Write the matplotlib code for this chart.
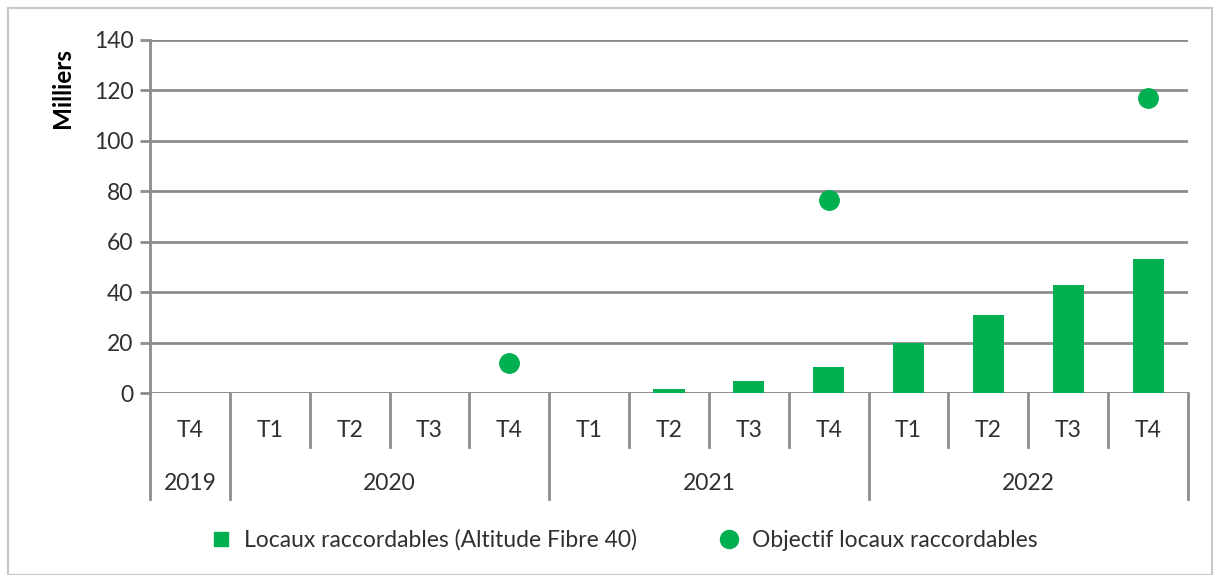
import matplotlib
matplotlib.use("Agg")
import matplotlib.pyplot as plt
from matplotlib.lines import Line2D
from matplotlib.patches import Rectangle

plt.rcParams['font.family'] = ['Lato', 'DejaVu Sans']

trimestres = ["T4", "T1", "T2", "T3", "T4", "T1", "T2", "T3", "T4", "T1", "T2", "T3", "T4"]
annees = ["2019", "2020", "2021", "2022"]
nb_trim = [1, 4, 4, 4]
locaux = [0, 0, 0, 0, 0, 0, 1.6, 4.7, 10.4, 19.9, 31, 43, 53]
objectif = [None, None, None, None, 11.9, None, None, None, 76.6, None, None, None, 116.8]

vert = "#00B050"
gris = "#8C8C8C"
taille = 16.5

fig = plt.figure(figsize=(12.15, 5.75), dpi=100)
ax = fig.add_axes([150/1215, 1-393/575, 1038/1215, 353/575])

x = list(range(len(trimestres)))
ax.bar(x, locaux, width=0.39, color=vert, zorder=3)
xo = [i for i, v in zip(x, objectif) if v is not None]
yo = [v for v in objectif if v is not None]
ax.plot(xo, yo, 'o', color=vert, markersize=14, zorder=4, linestyle='none')

ax.set_xlim(-0.5, len(x) - 0.5)
ax.set_ylim(0, 140)
ax.set_yticks(range(0, 141, 20))
ax.yaxis.grid(True, color=gris, linewidth=2)
ax.set_axisbelow(True)
for s in ["top", "right", "bottom"]:
    ax.spines[s].set_visible(False)
ax.spines["left"].set_color(gris)
ax.spines["left"].set_linewidth(2)
ax.axhline(0, color=gris, linewidth=2, zorder=2)
ax.tick_params(axis='y', colors=gris, length=7, width=2, labelsize=taille, labelcolor="#303030", pad=5)
ax.set_xticks([])

# axe des categories a deux niveaux
bornes_annee = [-0.5]
for n in nb_trim:
    bornes_annee.append(bornes_annee[-1] + n)
for b in range(len(x) + 1):
    pos = b - 0.5
    if pos in bornes_annee:
        ax.axvline(pos, ymin=-0.30, ymax=0, color=gris, linewidth=2, clip_on=False)
    else:
        ax.axvline(pos, ymin=-0.153, ymax=0, color=gris, linewidth=2, clip_on=False)

for i, t in enumerate(trimestres):
    ax.text(i, -0.105, t, transform=ax.get_xaxis_transform(), ha='center', va='center',
            fontsize=taille, color="#303030")
for k, a in enumerate(annees):
    centre = (bornes_annee[k] + bornes_annee[k + 1]) / 2
    ax.text(centre, -0.255, a, transform=ax.get_xaxis_transform(), ha='center', va='center',
            fontsize=taille, color="#303030")

fig.text(62/1215, 1-88/575, "Milliers", rotation=90, ha='center', va='center',
         fontsize=17.5, fontweight='bold', color="black")

poignees = [Line2D([], [], marker='s', color=vert, linestyle='none', markersize=10),
            Line2D([], [], marker='o', color=vert, linestyle='none', markersize=13)]
fig.legend(poignees, ["Locaux raccordables (Altitude Fibre 40)", "Objectif locaux raccordables"],
           loc='center', bbox_to_anchor=(618/1215, 1-540/575), ncol=2, frameon=False,
           fontsize=taille, handletextpad=0.0, columnspacing=3.0, labelcolor="#303030")

fig.patches.append(Rectangle((8/1215, 0), 1204/1215, 1-8/575, transform=fig.transFigure,
                             fill=False, edgecolor="#C8C8C8", linewidth=1.5))

fig.savefig("out.png", dpi=100)
